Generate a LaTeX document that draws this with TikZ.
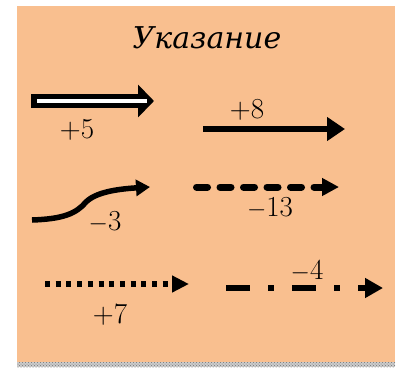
\documentclass[tikz,border=0pt]{standalone}
\usepackage{fontspec}
\newfontfamily\tnrfont{DejaVu Serif}
\usetikzlibrary{arrows.meta,patterns}
\definecolor{peachCol}{RGB}{249,191,143}
\tikzset{
  ttl/.style={font=\tnrfont\fontsize{30}{34}\selectfont\itshape,inner sep=0pt},
  lab/.style={font=\fontsize{29}{32}\selectfont,inner sep=0pt},
  hollow/.style={line width=14pt,-{Triangle[length=16pt,width=32pt]}},
  plain/.style={line width=6pt,-{Triangle[length=18pt,width=23pt]}},
  bent/.style={line width=5.5pt,-{Triangle[length=14pt,width=16pt]}},
  dashy/.style={line width=7pt,line cap=round,dash pattern=on 11pt off 12.5pt,
                -{Triangle[length=17pt,width=17pt]}},
  dotty/.style={line width=6pt,dash pattern=on 5pt off 5.7pt,
                -{Triangle[length=17pt,width=16pt]}},
  dashdot/.style={line width=6pt,dash pattern=on 24pt off 18pt on 6pt off 18pt,
                -{Triangle[length=18pt,width=19pt]}},
}

\begin{document}
\begin{tikzpicture}[x=1pt,y=-1pt]
    \useasboundingbox (0,0) rectangle (398,367);
    % --- sheet and its ragged bottom edge ---
    \fill[peachCol] (17,6) rectangle (395,362);
    \fill[black!20] (17,362) rectangle (395,367);
    \fill[pattern=crosshatch dots,pattern color=black!55] (17,362) rectangle (395,367);
    \node[ttl] (title) at (207,38) {Указание};
    % --- left column ---
    \coordinate (a5s) at (31,101);  \coordinate (a5e) at (154,101);
    \draw[hollow] (a5s) -- (a5e);
    \coordinate (w5s) at (37,101);  \coordinate (w5e) at (147,101);
    \draw[white,line width=4.5pt] (w5s) -- (w5e);
    \node[lab] (p5) at (77,130) {+5};
    \coordinate (a3s) at (32,220);  \coordinate (a3e) at (150,187);
    \draw[bent] (a3s) .. controls (62,219) and (76,214) .. (86,202)
                .. controls (96,192) and (118,189) .. (a3e);
    \node[lab] (m3) at (105,222) {$-$3};
    \coordinate (a7s) at (45,284);  \coordinate (a7e) at (189,284);
    \draw[dotty] (a7s) -- (a7e);
    \node[lab] (p7) at (110,315) {+7};
    % --- right column ---
    \coordinate (a8s) at (203,129); \coordinate (a8e) at (345,129);
    \draw[plain] (a8s) -- (a8e);
    \node[lab] (p8) at (247,110) {+8};
    \coordinate (a13s) at (196.5,187); \coordinate (a13e) at (339,187);
    \draw[dashy] (a13s) -- (a13e);
    \node[lab] (m13) at (270,208) {$-$13};
    \coordinate (a4s) at (226,288); \coordinate (a4e) at (383,288);
    \draw[dashdot] (a4s) -- (a4e);
    \node[lab] (m4) at (307,271) {$-$4};
\end{tikzpicture}
\end{document}
